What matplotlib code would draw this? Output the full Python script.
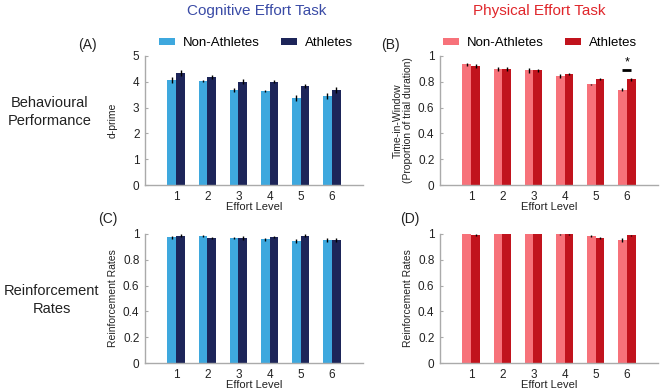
import matplotlib
matplotlib.use("Agg")
import matplotlib.pyplot as plt
from matplotlib.patches import Patch
import numpy as np

plt.rcParams['font.family'] = ['Liberation Sans', 'DejaVu Sans']

levels = [1, 2, 3, 4, 5, 6]

# (A) Cognitive d-prime
cog_dp_non = [4.07, 4.03, 3.67, 3.65, 3.38, 3.45]
cog_dp_non_err = [0.10, 0.05, 0.08, 0.03, 0.12, 0.12]
cog_dp_ath = [4.34, 4.18, 4.01, 4.01, 3.84, 3.68]
cog_dp_ath_err = [0.10, 0.07, 0.08, 0.07, 0.08, 0.10]

# (B) Physical time-in-window
phy_tw_non = [0.935, 0.899, 0.889, 0.842, 0.780, 0.738]
phy_tw_non_err = [0.010, 0.015, 0.020, 0.015, 0.005, 0.012]
phy_tw_ath = [0.925, 0.899, 0.889, 0.863, 0.821, 0.819]
phy_tw_ath_err = [0.015, 0.015, 0.010, 0.008, 0.010, 0.012]

# (C) Cognitive reinforcement rates
cog_rr_non = [0.974, 0.985, 0.969, 0.959, 0.946, 0.953]
cog_rr_non_err = [0.010, 0.008, 0.008, 0.012, 0.012, 0.015]
cog_rr_ath = [0.987, 0.969, 0.969, 0.974, 0.987, 0.953]
cog_rr_ath_err = [0.010, 0.010, 0.012, 0.008, 0.012, 0.015]

# (D) Physical reinforcement rates
phy_rr_non = [1.000, 1.000, 1.000, 0.997, 0.985, 0.953]
phy_rr_non_err = [0.000, 0.000, 0.000, 0.003, 0.006, 0.015]
phy_rr_ath = [0.992, 1.000, 1.000, 0.997, 0.972, 0.990]
phy_rr_ath_err = [0.008, 0.000, 0.000, 0.003, 0.008, 0.005]

cog_colors = ['#3ea8de', '#1d2559']
phy_colors = ['#f7727a', '#c1131d']
series_names = ['Non-Athletes', 'Athletes']

W, H = 660, 390
fig = plt.figure(figsize=(6.6, 3.9), dpi=100)

def px_axes(left, top, right, bottom):
    return fig.add_axes([left / W, 1 - bottom / H, (right - left) / W, (bottom - top) / H])

axA = px_axes(145, 56, 363, 185)
axB = px_axes(440, 56, 658, 185)
axC = px_axes(145, 234, 363, 363)
axD = px_axes(440, 234, 658, 363)

bw = 0.28
x = np.array(levels)

def draw(ax, non, nerr, ath, aerr, colors, ymax, yticks, yticklabels, ylabel):
    ax.bar(x - bw / 2, non, bw, color=colors[0], zorder=2)
    ax.bar(x + bw / 2, ath, bw, color=colors[1], zorder=2)
    ax.errorbar(x - bw / 2, non, yerr=nerr, fmt='none', ecolor='black', elinewidth=1.0, capsize=0, zorder=3)
    ax.errorbar(x + bw / 2, ath, yerr=aerr, fmt='none', ecolor='black', elinewidth=1.0, capsize=0, zorder=3)
    ax.set_xlim(0, 7)
    ax.set_ylim(0, ymax)
    ax.set_xticks(levels)
    ax.set_xticklabels([str(v) for v in levels], fontsize=8.5, color='#222222')
    ax.set_yticks(yticks)
    ax.set_yticklabels(yticklabels, fontsize=8.5, color='#222222')
    for s in ['top', 'right']:
        ax.spines[s].set_visible(False)
    for s in ['left', 'bottom']:
        ax.spines[s].set_color('#aaaaaa')
        ax.spines[s].set_linewidth(1.0)
    ax.tick_params(direction='in', length=2, width=0.8, color='#aaaaaa', pad=4)
    ax.set_ylabel(ylabel, fontsize=7.5, color='#222222', linespacing=1.0)
    ax.yaxis.set_label_coords(-0.124, 0.5)
    ax.set_xlabel('Effort Level', fontsize=8, color='#222222')
    ax.xaxis.set_label_coords(0.5, -0.13)

draw(axA, cog_dp_non, cog_dp_non_err, cog_dp_ath, cog_dp_ath_err, cog_colors, 5,
     [0, 1, 2, 3, 4, 5], ['0', '1', '2', '3', '4', '5'], 'd-prime')
draw(axB, phy_tw_non, phy_tw_non_err, phy_tw_ath, phy_tw_ath_err, phy_colors, 1,
     [0, 0.2, 0.4, 0.6, 0.8, 1], ['0', '0.2', '0.4', '0.6', '0.8', '1'],
     'Time-in-Window\n(Proportion of trial duration)')
draw(axC, cog_rr_non, cog_rr_non_err, cog_rr_ath, cog_rr_ath_err, cog_colors, 1,
     [0, 0.2, 0.4, 0.6, 0.8, 1], ['0', '0.2', '0.4', '0.6', '0.8', '1'],
     'Reinforcement Rates')
draw(axD, phy_rr_non, phy_rr_non_err, phy_rr_ath, phy_rr_ath_err, phy_colors, 1,
     [0, 0.2, 0.4, 0.6, 0.8, 1], ['0', '0.2', '0.4', '0.6', '0.8', '1'],
     'Reinforcement Rates')

# significance marker in B
axB.plot([6 - 0.14, 6 + 0.14], [0.889, 0.889], color='black', lw=2, solid_capstyle='butt', clip_on=False)
axB.text(6, 0.905, '*', ha='center', va='bottom', fontsize=9)

# legends
for ax, cols, cx in [(axA, cog_colors, 0.51), (axB, phy_colors, 0.459)]:
    handles = [Patch(facecolor=c, edgecolor='none') for c in cols]
    ax.legend(handles, series_names, ncol=2, frameon=False, fontsize=9.5,
              loc='center', bbox_to_anchor=(cx, 1.1), handlelength=1.2,
              handleheight=0.4, columnspacing=1.6, handletextpad=0.6, borderaxespad=0,
              borderpad=0)

# titles
fig.text(257 / W, 1 - 11 / H, 'Cognitive Effort Task', ha='center', va='center', fontsize=11, color='#3a4ba6')
fig.text(539 / W, 1 - 11 / H, 'Physical Effort Task', ha='center', va='center', fontsize=11, color='#e0262b')

# panel letters
fig.text(87 / W, 1 - 45 / H, '(A)', ha='center', va='center', fontsize=10, color='#222222')
fig.text(390 / W, 1 - 45 / H, '(B)', ha='center', va='center', fontsize=10, color='#222222')
fig.text(108 / W, 1 - 219 / H, '(C)', ha='center', va='center', fontsize=10, color='#222222')
fig.text(410 / W, 1 - 219 / H, '(D)', ha='center', va='center', fontsize=10, color='#222222')

# row labels
fig.text(50 / W, 1 - 112 / H, 'Behavioural\nPerformance', ha='center', va='center', fontsize=10.5,
         color='#222222', linespacing=1.3)
fig.text(52 / W, 1 - 300 / H, 'Reinforcement\nRates', ha='center', va='center', fontsize=10.5,
         color='#222222', linespacing=1.3)

fig.savefig('out.png', dpi=100)
